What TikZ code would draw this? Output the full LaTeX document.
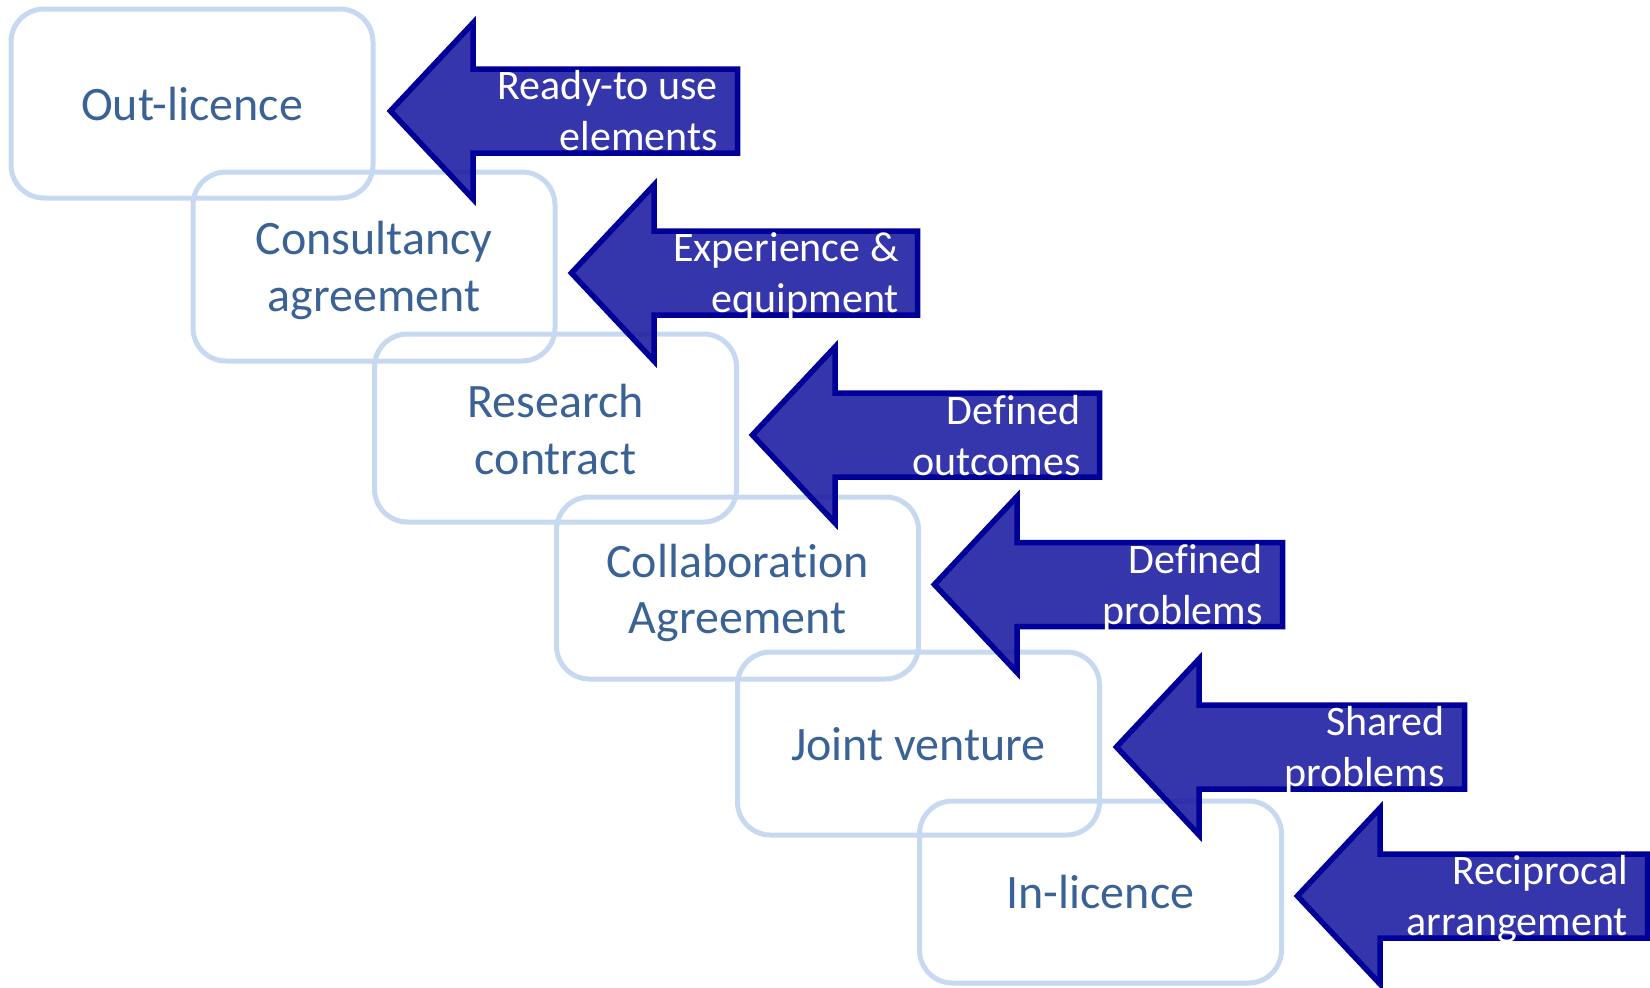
\documentclass[tikz,border=0pt]{standalone}
\usepackage{fontspec}
\setmainfont{Carlito}[Ligatures={NoCommon}]
\definecolor{boxline}{HTML}{C6D9F1}
\definecolor{boxtext}{HTML}{3A6296}
\definecolor{arrowfill}{HTML}{1F1FA3}
\definecolor{arrowline}{HTML}{000099}
\newcommand\flowarrow[3]{%
  \draw[arrowshape] ({#1+3.4},{#2}) -- ({#1+86},{#2-88}) -- ({#1+86},{#2-42})
    -- ({#3-2.5},{#2-42}) -- ({#3-2.5},{#2+42}) -- ({#1+86},{#2+42})
    -- ({#1+86},{#2+88}) -- cycle;}
\begin{document}
\begin{tikzpicture}[x=1pt,y=-1pt,
  stagebox/.style={draw=boxline, line width=5pt, rounded corners=33pt,
    minimum width=362pt, inner sep=0pt, outer sep=0pt},
  stagelabel/.style={text=boxtext, align=center, inner sep=0pt,
    font=\fontsize{48pt}{56.5pt}\selectfont},
  arrowshape/.style={draw=arrowline, line width=5.5pt, line join=miter,
    fill=arrowfill, fill opacity=0.9},
  arrowlabel/.style={text=white, align=right, inner sep=0pt,
    font=\fontsize{42pt}{51.5pt}\selectfont}]
\useasboundingbox (0,0) rectangle (1650,988);
% stage boxes
\node[stagebox, minimum height=189pt] (b1) at (192,103.5) {};
\node[stagebox, minimum height=189pt] (b2) at (374,266.5) {};
\node[stagebox, minimum height=188pt] (b3) at (555.5,428) {};
\node[stagebox, minimum height=182pt] (b4) at (737.5,588) {};
\node[stagebox, minimum height=183pt] (b5) at (918.5,743.5) {};
\node[stagebox, minimum height=182pt] (b6) at (1100.5,892) {};
% box labels (anchor = baseline of last line)
\node[stagelabel, anchor=base] (t1) at (192,120) {Out-licence};
\node[stagelabel, anchor=base] (t2) at (374,311) {Consultancy\\agreement};
\node[stagelabel, anchor=base] (t3) at (555.5,474) {Research\\contract};
\node[stagelabel, anchor=base] (t4) at (737.5,633.5) {Collaboration\\Agreement};
\node[stagelabel, anchor=base] (t5) at (918.5,760) {Joint venture};
\node[stagelabel, anchor=base] (t6) at (1100.5,908) {In-licence};
% arrows
\flowarrow{387}{111}{740}
\flowarrow{568}{273}{920}
\flowarrow{749}{435}{1102}
\flowarrow{931}{584.5}{1285}
\flowarrow{1113}{747}{1467}
\flowarrow{1294}{896}{1650}
% arrow labels (anchor = baseline of last line)
\node[arrowlabel, anchor=base east] (a1) at (718,150.5) {Ready-to use\\elements};
\node[arrowlabel, anchor=base east] (a2) at (899,312.5) {Experience \&\\equipment};
\node[arrowlabel, anchor=base east] (a3) at (1081,475.5) {Defined\\outcomes};
\node[arrowlabel, anchor=base east] (a4) at (1263,624.5) {Defined\\problems};
\node[arrowlabel, anchor=base east] (a5) at (1445,786.5) {Shared\\problems};
\node[arrowlabel, anchor=base east] (a6) at (1628,935.5) {Reciprocal\\arrangement};
\end{tikzpicture}
\end{document}
